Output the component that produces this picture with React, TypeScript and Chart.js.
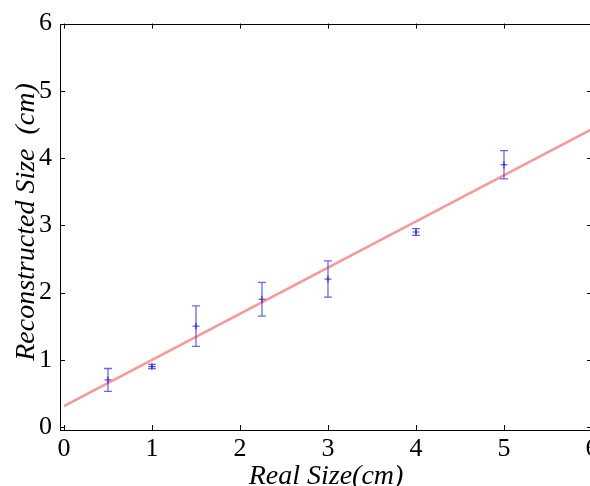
import React, { useEffect, useRef } from "react";
import { Chart, registerables } from "chart.js";

Chart.register(...registerables);

const realSize = [0.5, 1, 1.5, 2.25, 3, 4, 5];
const reconstructed = [0.7, 0.9, 1.5, 1.9, 2.2, 2.9, 3.9];
const errors = [0.17, 0.03, 0.3, 0.25, 0.27, 0.05, 0.21];
const fitX = [0, 6];
const fitY = [0.31, 4.43];
const tickValues = [0, 1, 2, 3, 4, 5, 6];
const xTitle = "Real Size(cm)";
const yTitle = "Reconstructed Size  (cm)";

const FONT = '"Liberation Serif", serif';

const decorPlugin = {
  id: "decor",
  beforeDatasetsDraw(chart: any) {
    const ctx = chart.ctx;
    const xs = chart.scales.x;
    const ys = chart.scales.y;
    ctx.save();
    ctx.strokeStyle = "rgba(0,0,255,0.6)";
    ctx.lineWidth = 1.3;
    realSize.forEach((xv, i) => {
      const px = xs.getPixelForValue(xv);
      const top = ys.getPixelForValue(reconstructed[i] + errors[i]);
      const bot = ys.getPixelForValue(reconstructed[i] - errors[i]);
      ctx.beginPath();
      ctx.moveTo(px, top);
      ctx.lineTo(px, bot);
      ctx.moveTo(px - 4, top);
      ctx.lineTo(px + 4, top);
      ctx.moveTo(px - 4, bot);
      ctx.lineTo(px + 4, bot);
      ctx.stroke();
    });
    ctx.restore();
  },
  afterDraw(chart: any) {
    const ctx = chart.ctx;
    const a = chart.chartArea;
    const xs = chart.scales.x;
    const ys = chart.scales.y;
    ctx.save();
    ctx.strokeStyle = "#000";
    ctx.lineWidth = 1;
    ctx.strokeRect(Math.round(a.left) + 0.5, Math.round(a.top) + 0.5, Math.round(a.right - a.left), Math.round(a.bottom - a.top));
    const L = 5;
    ctx.beginPath();
    tickValues.forEach((v) => {
      const px = Math.round(xs.getPixelForValue(v)) + 0.5;
      ctx.moveTo(px, a.bottom);
      ctx.lineTo(px, a.bottom - L);
      ctx.moveTo(px, a.top);
      ctx.lineTo(px, a.top + L);
      const py = Math.round(ys.getPixelForValue(v)) + 0.5;
      ctx.moveTo(a.left, py);
      ctx.lineTo(a.left + L, py);
      ctx.moveTo(a.right, py);
      ctx.lineTo(a.right - L, py);
    });
    ctx.stroke();

    ctx.fillStyle = "#000";
    ctx.font = `italic 28px ${FONT}`;
    ctx.textAlign = "center";
    ctx.textBaseline = "alphabetic";
    ctx.fillText(xTitle, 326, 484);
    ctx.translate(34, 222);
    ctx.rotate(-Math.PI / 2);
    ctx.fillText(yTitle, 0, 0);
    ctx.restore();
  },
};

export default function App() {
  const ref = useRef<HTMLCanvasElement>(null);
  useEffect(() => {
    let chart: any = null;
    let cancelled = false;
    const build = () => {
      if (cancelled || !ref.current) return;
      chart = new Chart(ref.current, {
        type: "scatter",
        data: {
          datasets: [
            {
              type: "line",
              data: fitX.map((x, i) => ({ x, y: fitY[i] })),
              borderColor: "rgba(255,0,0,0.42)",
              borderWidth: 2.5,
              pointRadius: 0,
              fill: false,
            } as any,
            {
              data: realSize.map((x, i) => ({ x, y: reconstructed[i] })),
              pointStyle: "cross",
              pointRadius: 3.5,
              borderColor: "rgba(0,0,255,0.8)",
              backgroundColor: "rgba(0,0,255,0.8)",
              borderWidth: 1,
            },
          ],
        },
        options: {
          animation: false,
          responsive: false,
          layout: { padding: { left: 0, right: 28, top: 18, bottom: 0 } },
          plugins: { legend: { display: false }, tooltip: { enabled: false } },
          scales: {
            x: {
              type: "linear",
              min: -0.045,
              max: 6,
              grid: { display: false, drawTicks: false },
              border: { display: false },
              afterFit: (s: any) => {
                s.height = 56;
              },
              afterBuildTicks: (s: any) => {
                s.ticks = tickValues.map((v) => ({ value: v }));
              },
              ticks: {
                padding: 4,
                color: "#000",
                font: { family: FONT, size: 26 },
                maxRotation: 0,
                autoSkip: false,
              },
            },
            y: {
              type: "linear",
              min: -0.045,
              max: 6,
              grid: { display: false, drawTicks: false },
              border: { display: false },
              afterFit: (s: any) => {
                s.width = 60;
              },
              afterBuildTicks: (s: any) => {
                s.ticks = tickValues.map((v) => ({ value: v }));
              },
              ticks: {
                padding: 8,
                color: "#000",
                font: { family: FONT, size: 26 },
                autoSkip: false,
              },
            },
          },
        },
        plugins: [decorPlugin],
      });
    };
    const fonts: any = (document as any).fonts;
    if (fonts && fonts.load) {
      Promise.all([
        fonts.load('26px "Liberation Serif"'),
        fonts.load('italic 28px "Liberation Serif"'),
      ])
        .catch(() => null)
        .then(build);
    } else {
      build();
    }
    return () => {
      cancelled = true;
      if (chart) chart.destroy();
    };
  }, []);
  return (
    <div style={{ position: "fixed", left: 0, top: 0, width: 590, height: 486, overflow: "hidden", background: "#fff" }}>
      <canvas ref={ref} width={620} height={486} style={{ display: "block" }} />
    </div>
  );
}
